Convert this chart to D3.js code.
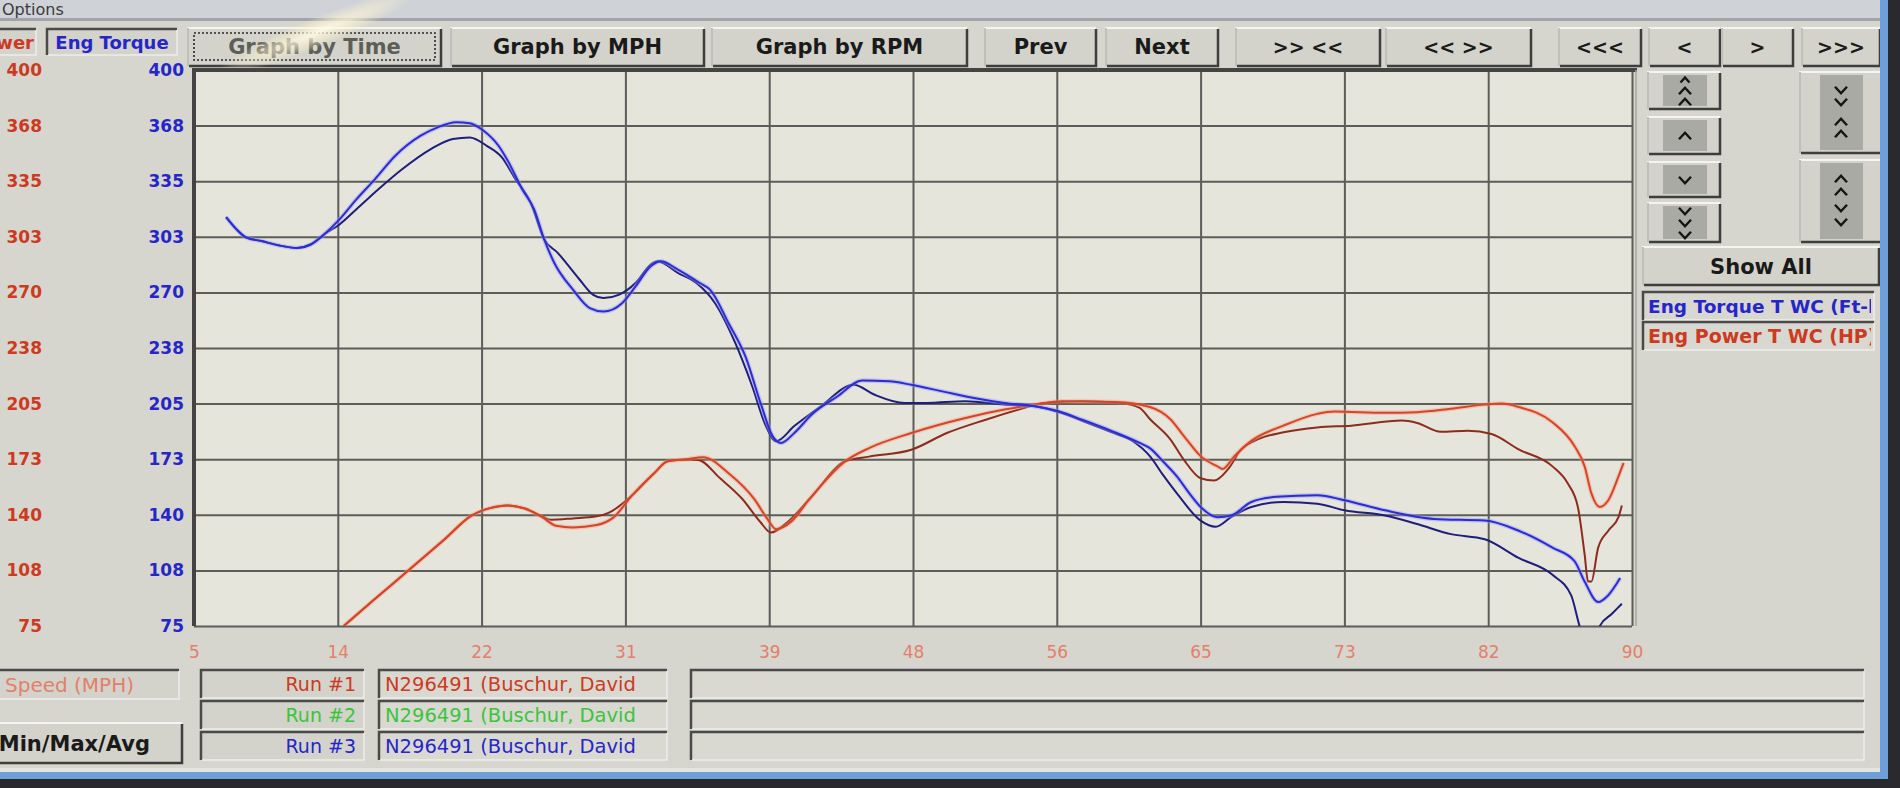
<!DOCTYPE html>
<html><head><meta charset="utf-8">
<script src="https://cdn.jsdelivr.net/npm/d3@7"></script>
<style>
html,body{margin:0;padding:0;background:#d6d6ce;overflow:hidden}
svg{display:block}
</style></head><body>
<svg id="c" width="1900" height="788"></svg>
<script>
// ---------- DATA ----------
const mphTicks = [5, 13.5, 22, 30.5, 39, 47.5, 56, 64.5, 73, 81.5, 90];
const mphTickLabels = ["5","14","22","31","39","48","56","65","73","82","90"];
const valueTicks = [75, 107.5, 140, 172.5, 205, 237.5, 270, 302.5, 335, 367.5, 400];
const valueTickLabels = ["75","108","140","173","205","238","270","303","335","368","400"];

// [mph, ft-lb]
const torqueRunA = [[6.9,314],[7.5,307],[8.1,302],[9,300],[10,297.5],[11.1,296],[11.9,298],[12.7,304],[13.6,312.7],[14.6,324.4],[15.7,336.2],[16.9,349.9],[18.4,361.6],[19.4,366.5],[20.5,369.5],[21.3,368.9],[22.1,364.6],[23,355.7],[23.6,346],[24.4,330.3],[25.1,318.6],[25.7,301],[26.3,287.2],[27.4,271.6],[28.4,260.8],[29.2,258.8],[30.3,263.7],[31.1,273.5],[32,285.3],[32.6,288.2],[33.6,283.3],[34.9,275.5],[35.5,271.6],[36.6,252],[37.6,232.4],[38.5,205],[39.2,186],[39.7,182],[40.5,188],[41.5,198.5],[43,209],[44.5,218.5],[46.1,218],[47.4,216],[49.3,212],[51.1,208.3],[52.9,205.4],[54.7,203.4],[56.1,200.5],[57.5,195.6],[59.3,188.8],[60.9,182],[61.5,179],[62.3,171],[63.1,162.4],[63.8,153],[64.5,144.6],[65.5,138.6],[66.3,139.6],[67.5,147.5],[69,150.5],[71.4,151.5],[73,148.5],[75.4,142.6],[78.3,137.6],[81.3,136.6],[83.3,130.7],[85.3,120.8],[86.6,112.9],[87.2,101],[88,89],[88.6,93],[89.3,103]];
const torqueRunB = [[6.9,314],[7.5,307],[8.1,302],[9,300],[10,297.5],[11.1,296],[11.9,298],[12.7,304],[13.6,309.7],[14.6,318.6],[15.9,330.3],[17.3,342],[19,353.8],[20.3,359.7],[21.3,360.6],[22.3,355.7],[23.2,348.9],[24,336.2],[24.9,322.5],[25.7,301],[26.5,293.1],[27.8,277.4],[28.6,268.6],[29.2,266.7],[30.1,268.6],[31.1,275.5],[32,286.3],[32.4,288.2],[33.6,281.4],[34.7,275.5],[35.8,263.7],[37,240.3],[38,215],[38.8,192],[39.4,183],[40.5,192],[42,203],[44,216],[45.2,210.3],[47,205.4],[48.3,205.4],[50.6,206.4],[52.9,204.4],[54.7,203.4],[56.1,200],[57.5,195],[59.3,188],[60.5,183],[61.5,174.3],[62.3,163],[63.1,152.5],[64.5,136.6],[65.4,133],[66.3,138.6],[67.5,144.6],[69.4,147.5],[71.4,146.5],[73,142.6],[75.4,139.6],[77.3,134.6],[79.3,128.7],[81.3,125.7],[83.3,114.8],[85.3,104.9],[86.4,93],[86.9,75],[87.3,64],[87.7,64],[88.1,75],[88.8,82],[89.4,88]];
// [mph, hp]
const powerRunA = [[13.85,75],[15.6,90],[17.7,107.7],[19.8,125.6],[21.4,139.5],[22.5,143.9],[23.5,145.5],[24.6,143.5],[25.6,138.5],[26.4,133.6],[27.4,132.6],[28.8,134],[29.8,138.5],[30.9,151.4],[32.2,164.3],[33,171.3],[34,172.3],[35.1,173.7],[36.6,164.3],[38.1,149.4],[38.9,137.5],[39.4,131.6],[40.3,136],[41.4,149.4],[43.5,171.3],[44.9,179],[47.4,187.8],[50.6,196.6],[52.9,201.5],[54.7,204.4],[56.3,206.4],[59.5,206],[61.5,203],[62.7,196],[63.5,186.2],[64.5,174.3],[65.5,168.3],[65.8,166.8],[66.5,174.3],[67.5,183.2],[69.4,192.1],[71.4,199],[72.4,200.4],[75.4,199.6],[77.3,200],[79.3,202],[81.3,204.4],[82.3,205],[83.3,203],[85.3,194.1],[86.6,180.2],[87.2,168.3],[87.6,152.5],[88.1,144.6],[88.6,148.5],[89.2,162.4],[89.5,170.3]];
const powerRunB = [[13.85,75],[15.6,90],[17.7,107.7],[19.8,125.6],[21.4,139.5],[22.5,143.9],[23.5,145.5],[24.6,143.5],[25.6,139],[26.1,137.1],[27.4,137.9],[28.8,139.1],[29.5,141.1],[30.9,151.4],[32.2,164.3],[33,171.3],[34,172.3],[34.8,172],[36.1,161.3],[37.4,149.4],[38.5,135.5],[39.1,129.6],[40,135],[41.4,149.4],[43.5,171.3],[44.9,174],[47.4,178],[49.5,187.8],[51.8,195.6],[54.1,202.5],[55.2,205.4],[57.5,206.4],[59.8,205.4],[60.9,202.5],[61.5,196],[62.7,184.2],[63.5,172.3],[64.5,161.4],[65.3,160],[66.1,166.4],[66.9,178.2],[67.9,184.2],[69.4,188.2],[71.4,191.1],[73.4,192.1],[76.4,195.1],[77.3,193.7],[78.7,188.5],[80.3,189.1],[81.7,187.2],[83.3,178.2],[85.3,168.3],[86.2,158.4],[86.8,144.6],[87.2,116.8],[87.4,101],[87.6,101],[88,120.8],[88.6,130.7],[89.2,138.6],[89.4,145.5]];

const topButtonLabels = ["Graph by Time","Graph by MPH","Graph by RPM","Prev","Next",">> <<","<< >>","<<<","<",">",">>>"];
const runLabels = ["Run #1","Run #2","Run #3"];
const runNames = ["N296491 (Buschur, David","N296491 (Buschur, David","N296491 (Buschur, David"];
const legendLabels = ["Eng Torque T WC (Ft-lb)","Eng Power T WC (HP)"];
const axisTitles = {power:"Eng Power", torque:"Eng Torque", x:"Speed (MPH)"};

// ---------- STYLE ----------
const C = {
  bg:"#d6d6ce", plotBg:"#e5e5db", grid:"#5c5c58",
  blue:"#2626c8", red:"#cc3a22", salmon:"#e2806a", green:"#3cc43c",
  torqueA:"#2c2cd0", torqueB:"#1e1e7c", powerA:"#d4462a", powerB:"#8c2c1c"
};
const FONT = "'DejaVu Sans', Verdana, sans-serif";
const svg = d3.select("#c");
const plot = {l:194, t:70, r:1632, b:626};
const x = d3.scaleLinear().domain([5,90]).range([plot.l, plot.r]);
const y = d3.scaleLinear().domain([75,400]).range([plot.b, plot.t]);

const defs = svg.append("defs");
defs.append("clipPath").attr("id","plotClip").append("rect")
  .attr("x",plot.l).attr("y",plot.t).attr("width",plot.r-plot.l).attr("height",plot.b-plot.t);
const glare = defs.append("radialGradient").attr("id","glare");
glare.append("stop").attr("offset","0%").attr("stop-color","#fffbe8").attr("stop-opacity",0.9);
glare.append("stop").attr("offset","55%").attr("stop-color","#fff6d0").attr("stop-opacity",0.45);
glare.append("stop").attr("offset","100%").attr("stop-color","#fff6d0").attr("stop-opacity",0);

// background
svg.append("rect").attr("width",1900).attr("height",788).attr("fill",C.bg);
svg.append("rect").attr("width",1900).attr("height",19).attr("fill","#cfd2d7");
svg.append("rect").attr("y",18).attr("width",1900).attr("height",3).attr("fill","#a2a5a8");
svg.append("text").attr("x",2).attr("y",15).attr("font-family",FONT).attr("font-size",16)
  .attr("fill","#3a3a3a").text("Options");

// ---------- helpers ----------
function raised(g,x0,y0,w,h){
  g.append("rect").attr("x",x0).attr("y",y0).attr("width",w).attr("height",h).attr("fill","#d3d3cb");
  g.append("path").attr("d",`M${x0},${y0+h}V${y0}H${x0+w}`).attr("fill","none").attr("stroke","#f4f4f0").attr("stroke-width",2);
  g.append("path").attr("d",`M${x0+1},${y0+h}H${x0+w}V${y0+1}`).attr("fill","none").attr("stroke","#3e3e3e").attr("stroke-width",2.5);
  g.append("path").attr("d",`M${x0},${y0}V${y0+h}`).attr("fill","none").attr("stroke","#8a8a86").attr("stroke-width",1);
}
function sunken(g,x0,y0,w,h,fill){
  g.append("rect").attr("x",x0).attr("y",y0).attr("width",w).attr("height",h).attr("fill",fill||"#d3d3cb");
  g.append("path").attr("d",`M${x0},${y0+h}V${y0}H${x0+w}`).attr("fill","none").attr("stroke","#4a4a48").attr("stroke-width",2.5);
  g.append("path").attr("d",`M${x0+1},${y0+h}H${x0+w}V${y0+1}`).attr("fill","none").attr("stroke","#eeeeea").attr("stroke-width",1.5);
}
function chevron(g,cx,cy,up,s){
  s = s||6;
  const d = up ? `M${cx-s},${cy+s*0.55}L${cx},${cy-s*0.55}L${cx+s},${cy+s*0.55}`
               : `M${cx-s},${cy-s*0.55}L${cx},${cy+s*0.55}L${cx+s},${cy-s*0.55}`;
  g.append("path").attr("d",d).attr("fill","none").attr("stroke","#151515").attr("stroke-width",2.4);
}

// ---------- top row ----------
const topG = svg.append("g");
sunken(topG,-4,29,40,26);
topG.append("text").attr("x",34).attr("y",49).attr("text-anchor","end").attr("font-family",FONT)
  .attr("font-weight","bold").attr("font-size",18).attr("fill",C.red).text(axisTitles.power);
sunken(topG,47,29,130,26);
topG.append("text").attr("x",112).attr("y",49).attr("text-anchor","middle").attr("font-family",FONT)
  .attr("font-weight","bold").attr("font-size",18).attr("fill",C.blue).text(axisTitles.torque);

const btnGeom = [[188,253],[451,253],[712,255],[985,111],[1106,112],[1236,144],[1386,145],[1559,82],[1649,71],[1722,71],[1802,78]];
topButtonLabels.forEach((lab,i)=>{
  const [bx,bw] = btnGeom[i];
  raised(topG,bx,28,bw,38);
  if(i===0){
    topG.append("rect").attr("x",bx+6).attr("y",33).attr("width",bw-12).attr("height",27)
      .attr("fill","none").attr("stroke","#2a2a2a").attr("stroke-width",1.6).attr("stroke-dasharray","2,2");
  }
  topG.append("text").attr("x",bx+bw/2).attr("y",54).attr("text-anchor","middle")
    .attr("font-family",FONT).attr("font-weight","bold").attr("font-size",i<5?21:19)
    .attr("fill", i===0 ? "#5e5e58" : "#1a1a1a").text(lab);
});
// photo glare on first button
svg.append("ellipse").attr("cx",0).attr("cy",0).attr("rx",110).attr("ry",15)
  .attr("transform","translate(318,32) rotate(-22)").attr("fill","url(#glare)");

// ---------- plot ----------
const pg = svg.append("g");
pg.append("rect").attr("x",plot.l).attr("y",plot.t).attr("width",plot.r-plot.l).attr("height",plot.b-plot.t).attr("fill",C.plotBg);

const gx = pg.append("g").attr("transform",`translate(0,${plot.b})`)
  .call(d3.axisBottom(x).tickValues(mphTicks).tickSize(-(plot.b-plot.t)).tickFormat(""));
gx.select(".domain").remove();
gx.selectAll("line").attr("stroke",C.grid).attr("stroke-width",2);
const gy = pg.append("g").attr("transform",`translate(${plot.l},0)`)
  .call(d3.axisLeft(y).tickValues(valueTicks).tickSize(-(plot.r-plot.l)).tickFormat(""));
gy.select(".domain").remove();
gy.selectAll("line").attr("stroke",C.grid).attr("stroke-width",2);

// frame
pg.append("path").attr("d",`M${plot.l},${plot.b}V${plot.t}H${plot.r+5}`).attr("fill","none").attr("stroke","#444442").attr("stroke-width",4);
pg.append("path").attr("d",`M${plot.r+4},${plot.t}V${plot.b}`).attr("fill","none").attr("stroke","#a4a49e").attr("stroke-width",1.5);

// y labels (power red / torque blue)
function yLabels(xpos,color){
  const a = svg.append("g").attr("transform",`translate(${xpos},0)`)
    .call(d3.axisLeft(y).tickValues(valueTicks).tickSize(0).tickPadding(0).tickFormat((d,i)=>valueTickLabels[i]));
  a.select(".domain").remove();
  a.selectAll("text").attr("font-family",FONT).attr("font-weight","bold").attr("font-size",17).attr("fill",color);
}
yLabels(42,C.red);
yLabels(184,C.blue);

// x labels
const xl = svg.append("g").attr("transform",`translate(0,${plot.b+20})`)
  .call(d3.axisBottom(x).tickValues(mphTicks).tickSize(0).tickPadding(0).tickFormat((d,i)=>mphTickLabels[i]));
xl.select(".domain").remove();
xl.selectAll("text").attr("font-family",FONT).attr("font-size",17).attr("fill",C.salmon);

// curves
const line = d3.line().x(d=>x(d[0])).y(d=>y(d[1])).curve(d3.curveMonotoneX);
const lg = svg.append("g").attr("clip-path","url(#plotClip)");
[[powerRunB,C.powerB,null],[powerRunA,C.powerA,"rgba(255,150,120,0.4)"],
 [torqueRunB,C.torqueB,null],[torqueRunA,C.torqueA,"rgba(150,150,255,0.45)"]].forEach(([data,col,halo])=>{
  if(halo) lg.append("path").attr("d",line(data)).attr("fill","none").attr("stroke",halo).attr("stroke-width",4.5);
  lg.append("path").attr("d",line(data)).attr("fill","none").attr("stroke",col).attr("stroke-width",2);
});

// ---------- right panel ----------
const rp = svg.append("g");
const c1 = [[72,37],[117,37],[162,35],[203,39]];
c1.forEach(([by,bh])=>{
  raised(rp,1648,by,72,bh);
  rp.append("rect").attr("x",1663).attr("y",by+3).attr("width",44).attr("height",bh-6).attr("fill","#aaaaa4");
});
chevron(rp,1685,80,true,4.5); chevron(rp,1685,91,true); chevron(rp,1685,102,true);
chevron(rp,1685,136,true);
chevron(rp,1685,180,false);
chevron(rp,1685,211,false); chevron(rp,1685,223,false); chevron(rp,1685,235,false);
[[72,81],[160,82]].forEach(([by,bh])=>{
  raised(rp,1800,by,83,bh);
  rp.append("rect").attr("x",1820).attr("y",by+3).attr("width",43).attr("height",bh-6).attr("fill","#aaaaa4");
});
chevron(rp,1841,90,false); chevron(rp,1841,102,false); chevron(rp,1841,122,true); chevron(rp,1841,134,true);
chevron(rp,1841,179,true); chevron(rp,1841,192,true); chevron(rp,1841,208,false); chevron(rp,1841,222,false);

raised(rp,1643,247,236,38);
rp.append("text").attr("x",1761).attr("y",274).attr("text-anchor","middle").attr("font-family",FONT)
  .attr("font-weight","bold").attr("font-size",21).attr("fill","#1a1a1a").text("Show All");

legendLabels.forEach((lab,i)=>{
  const by = 292 + i*30;
  sunken(rp,1643,by,231,28,"#d8d8d0");
  const cid = "lgClip"+i;
  defs.append("clipPath").attr("id",cid).append("rect").attr("x",1645).attr("y",by).attr("width",226).attr("height",28);
  rp.append("text").attr("x",1648).attr("y",by+21).attr("clip-path",`url(#${cid})`)
    .attr("font-family",FONT).attr("font-weight","bold").attr("font-size",i===0?18.5:19)
    .attr("fill", i===0 ? C.blue : C.red).text(lab);
});

// ---------- bottom panel ----------
const bp = svg.append("g");
const runColors = [C.red, C.green, C.blue];
const rowY = [670,701,732];
sunken(bp,-4,670,183,29);
bp.append("text").attr("x",134).attr("y",692).attr("text-anchor","end").attr("font-family",FONT)
  .attr("font-size",20).attr("fill",C.salmon).text(axisTitles.x);
raised(bp,-4,723,186,40);
bp.append("text").attr("x",150).attr("y",751).attr("text-anchor","end").attr("font-family",FONT)
  .attr("font-weight","bold").attr("font-size",21).attr("fill","#1a1a1a").text("Min/Max/Avg");
runLabels.forEach((lab,i)=>{
  const ry = rowY[i];
  sunken(bp,201,ry,163,28);
  bp.append("text").attr("x",356).attr("y",ry+21).attr("text-anchor","end").attr("font-family",FONT)
    .attr("font-size",19).attr("fill",runColors[i]).text(lab);
  sunken(bp,379,ry,288,28,"#d9d9d2");
  bp.append("text").attr("x",385).attr("y",ry+21).attr("font-family",FONT)
    .attr("font-size",19.5).attr("fill",runColors[i]).text(runNames[i]);
  sunken(bp,691,ry,1173,28,"#d9d9d2");
});

// window frame
svg.append("rect").attr("x",0).attr("y",768).attr("width",1900).attr("height",5).attr("fill","#e4e4de");
svg.append("rect").attr("x",0).attr("y",772).attr("width",1900).attr("height",7).attr("fill","#6f9fd9");
svg.append("rect").attr("x",0).attr("y",779).attr("width",1900).attr("height",9).attr("fill","#2a2a2e");
svg.append("rect").attr("x",1880).attr("y",0).attr("width",8).attr("height",779).attr("fill","#6f9fd9");
svg.append("rect").attr("x",1888).attr("y",0).attr("width",12).attr("height",788).attr("fill","#2a2a2e");
</script>
</body></html>
